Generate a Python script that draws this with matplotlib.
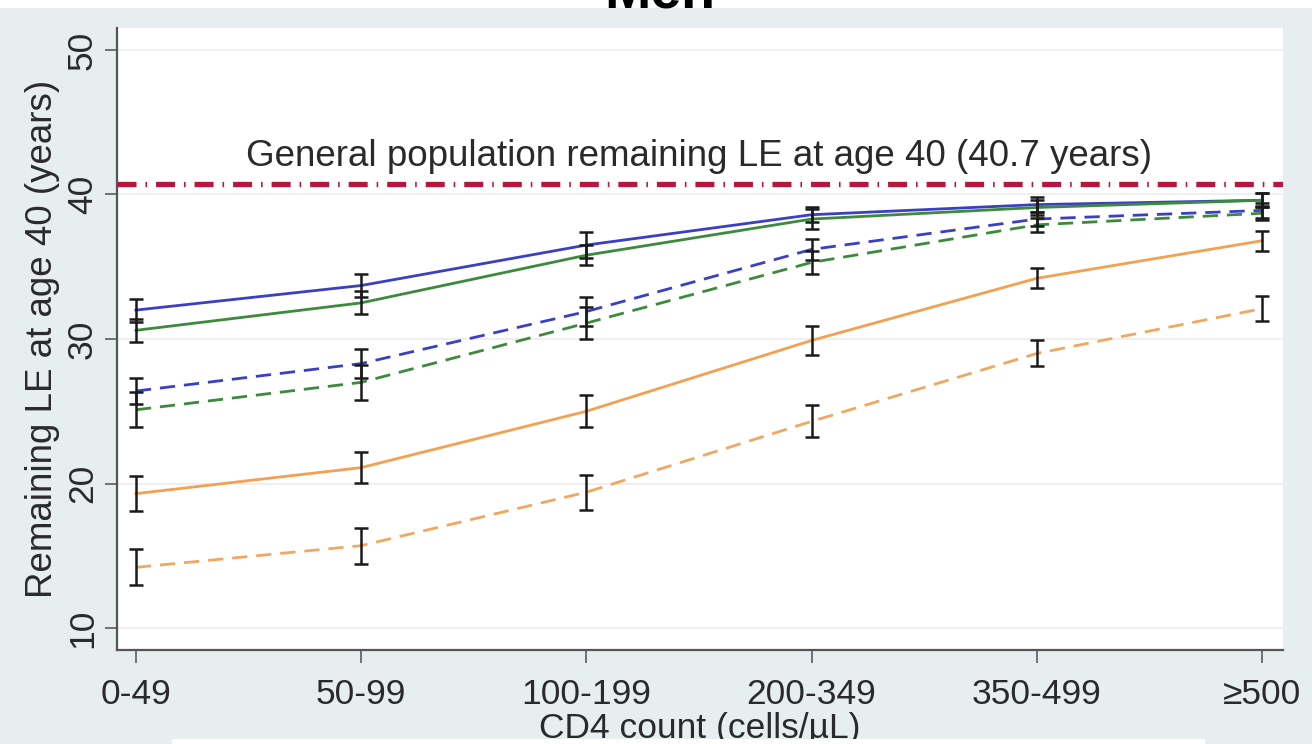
import matplotlib
matplotlib.use('Agg')
import matplotlib.pyplot as plt
from matplotlib.patches import Rectangle

plt.rcParams['font.family'] = ['Liberation Sans', 'DejaVu Sans']

# CD4 strata and remaining life expectancy at age 40 (years), with CI half-widths
cd4_groups = ['0-49', '50-99', '100-199', '200-349', '350-499', '≥500']

blue_solid = [32.0, 33.7, 36.5, 38.6, 39.3, 39.6]
blue_solid_err = [0.8, 0.8, 0.9, 0.5, 0.5, 0.5]
green_solid = [30.6, 32.5, 35.8, 38.3, 39.1, 39.6]
green_solid_err = [0.8, 0.8, 0.7, 0.7, 0.5, 0.5]
blue_dashed = [26.4, 28.3, 31.9, 36.2, 38.3, 38.9]
blue_dashed_err = [0.9, 1.0, 1.0, 0.7, 0.5, 0.5]
green_dashed = [25.1, 27.0, 31.1, 35.3, 37.9, 38.7]
green_dashed_err = [1.2, 1.2, 1.1, 0.8, 0.5, 0.5]
orange_solid = [19.3, 21.1, 25.0, 29.9, 34.2, 36.8]
orange_solid_err = [1.2, 1.05, 1.1, 1.0, 0.7, 0.7]
orange_dashed = [14.2, 15.7, 19.4, 24.3, 29.0, 32.1]
orange_dashed_err = [1.25, 1.25, 1.2, 1.1, 0.9, 0.85]

gen_pop_le = 40.7

series = [
    (blue_solid, blue_solid_err, '#3b3fc4', '-'),
    (green_solid, green_solid_err, '#3c8a3c', '-'),
    (blue_dashed, blue_dashed_err, '#3b3fc4', '--'),
    (green_dashed, green_dashed_err, '#3c8a3c', '--'),
    (orange_solid, orange_solid_err, '#f2a052', '-'),
    (orange_dashed, orange_dashed_err, '#f0a860', '--'),
]

txt = '#2a2a2a'
fig = plt.figure(figsize=(13.12, 7.44), dpi=100, facecolor='#e7eef0')
ax = fig.add_axes([117 / 1312, 94 / 744, 1166 / 1312, 622 / 744])
ax.set_facecolor('white')

x = list(range(len(cd4_groups)))
for vals, errs, col, ls in series:
    ax.errorbar(x, vals, yerr=errs, fmt='none', ecolor='#1a1a1a',
                elinewidth=1.8, capsize=5, capthick=1.8, zorder=4)
    ln, = ax.plot(x, vals, color=col, lw=2.0, zorder=3)
    if ls == '--':
        ln.set_dashes((5.5, 3.2))

# general population reference
ref, = ax.plot([-0.084, 5.093], [gen_pop_le, gen_pop_le], color='#b8163e',
               lw=3.8, solid_capstyle='butt', zorder=5)
ref.set_dashes((3.6, 1.7, 0.3, 1.7))
ref.set_dash_capstyle('butt')
ax.text(2.5, 41.45, 'General population remaining LE at age 40 (40.7 years)',
        ha='center', va='bottom', fontsize=26.5, color=txt)

ax.set_xlim(-0.084, 5.093)
ax.set_ylim(8.48, 51.52)
ax.set_xticks(x)
ax.set_xticklabels(cd4_groups)
ax.set_yticks([10, 20, 30, 40, 50])
ax.yaxis.grid(True, color='#ececec', lw=1.2)
ax.set_axisbelow(True)

for s in ['top', 'right']:
    ax.spines[s].set_visible(False)
for s in ['left', 'bottom']:
    ax.spines[s].set_color('#555555')
    ax.spines[s].set_linewidth(1.6)

ax.tick_params(axis='both', direction='out', length=9, width=1.3,
               color='#666666', labelsize=25.5, labelcolor=txt)
ax.tick_params(axis='x', pad=11)
ax.tick_params(axis='y', pad=4)
for lbl in ax.get_yticklabels():
    lbl.set_rotation(90)
    lbl.set_va('center')

ax.set_ylabel('Remaining LE at age 40 (years)', fontsize=26.5, color=txt, labelpad=4)
ax.set_xlabel('CD4 count (cells/µL)', fontsize=25.5, color=txt, labelpad=1)

# panel strip at the top and title sitting above it
fig.patches.append(Rectangle((0, 1 - 8 / 744), 1, 8 / 744, transform=fig.transFigure,
                             facecolor='white', edgecolor='none', zorder=0))
fig.text(660 / 1312, 1 - 7 / 744, 'Men', ha='center', va='baseline',
         fontsize=40, fontweight='bold', color='black')
fig.patches.append(Rectangle((172 / 1312, 0), (1205 - 172) / 1312, 5 / 744,
                             transform=fig.transFigure, facecolor='white',
                             edgecolor='none', zorder=10))

fig.savefig('out.png', dpi=100, facecolor=fig.get_facecolor())
